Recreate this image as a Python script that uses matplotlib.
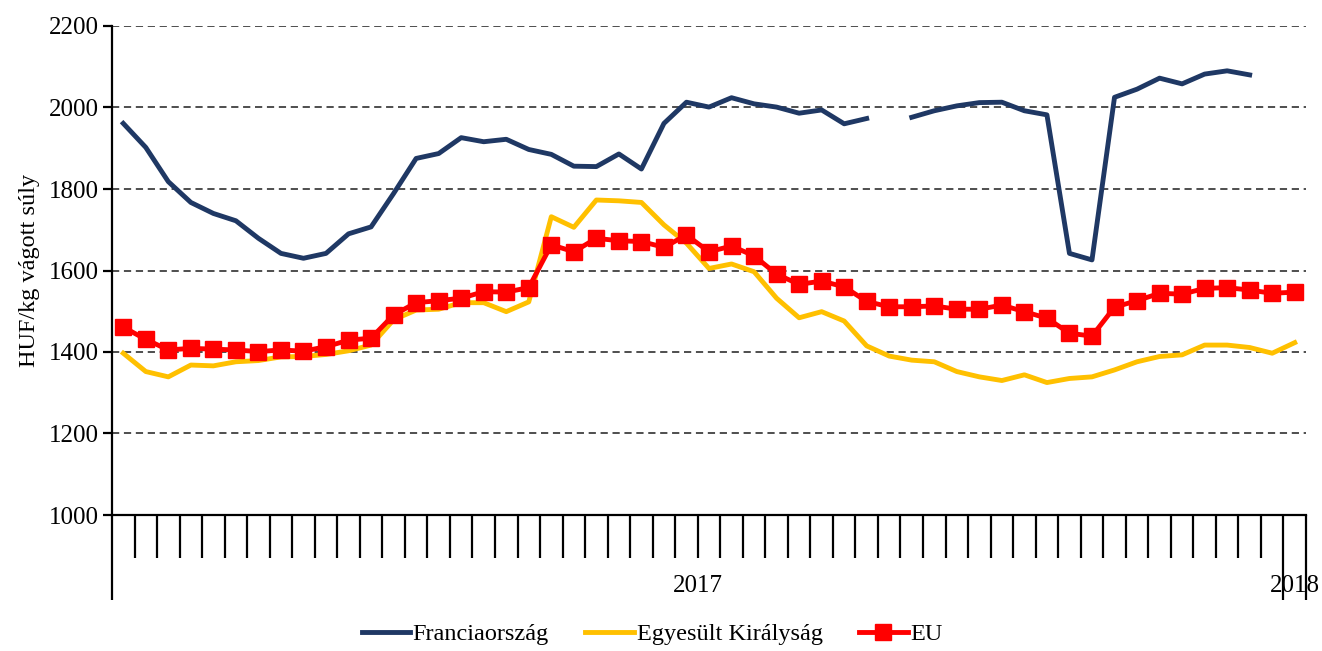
import numpy as np
import matplotlib
matplotlib.use('Agg')
import matplotlib.pyplot as plt
import matplotlib.transforms as mtransforms

plt.rcParams['font.family'] = ['Liberation Serif', 'DejaVu Serif']

# weekly prices, HUF/kg carcass weight (weeks 1-52 of 2017 + week 1 of 2018)
weeks = np.arange(53)
year_labels = ['2017', '2018']

francia = [1961, 1902, 1818, 1767, 1740, 1722, 1679, 1642, 1630, 1642,
           1690, 1707, 1789, 1875, 1887, 1926, 1916, 1922, 1897, 1885,
           1856, 1855, 1886, 1849, 1961, 2013, 2001, 2024, 2009, 2001,
           1986, 1994, 1960, 1973, np.nan, 1976, 1992, 2004, 2012, 2013,
           1992, 1982, 1642, 1626, 2025, 2045, 2072, 2058, 2082, 2090,
           2080, np.nan, np.nan]

uk = [1397, 1352, 1339, 1368, 1366, 1376, 1379, 1388, 1389, 1394,
      1403, 1417, 1479, 1503, 1505, 1521, 1521, 1499, 1523, 1732,
      1706, 1773, 1771, 1767, 1712, 1667, 1605, 1616, 1597, 1532,
      1484, 1499, 1476, 1415, 1390, 1380, 1376, 1352, 1339, 1330,
      1344, 1325, 1335, 1339, 1356, 1376, 1389, 1393, 1417, 1417,
      1411, 1397, 1423]

eu = [1461, 1431, 1405, 1409, 1407, 1405, 1401, 1405, 1402, 1413,
      1429, 1434, 1491, 1521, 1526, 1532, 1548, 1547, 1558, 1663,
      1646, 1679, 1673, 1671, 1657, 1687, 1646, 1660, 1636, 1591,
      1566, 1574, 1560, 1524, 1511, 1511, 1513, 1505, 1505, 1515,
      1499, 1483, 1446, 1439, 1510, 1526, 1544, 1542, 1556, 1558,
      1552, 1544, 1547]

fig = plt.figure(figsize=(13.22, 6.51), dpi=100)
ax = fig.add_axes([112/1322, 1-515/651, (1306-112)/1322, (515-26)/651])

ax.plot(weeks, francia, color='#1F3864', lw=3.5, label='Franciaország', zorder=3)
ax.plot(weeks, uk, color='#FFC000', lw=3.5, label='Egyesült Királyság', zorder=3)
ax.plot(weeks, eu, color='#FF0000', lw=3.5, marker='s', markersize=11,
        label='EU', zorder=4)

ax.set_xlim(-0.5, 52.5)
ax.set_ylim(1000, 2200)
ax.set_yticks(np.arange(1000, 2201, 200))
ax.yaxis.grid(True, linestyle=(0, (4, 2.6)), color='#404040', lw=1.3)
ax.set_axisbelow(True)

for s in ['top', 'right']:
    ax.spines[s].set_visible(False)
ax.spines['left'].set_linewidth(1.6)
ax.spines['bottom'].set_linewidth(1.6)

ax.tick_params(axis='y', direction='out', length=6.5, width=1.6,
               labelsize=18, pad=3)

# category axis: short ticks between weeks, long ones separating years
ax.set_xticks([-0.5, 51.5, 52.5])
ax.set_xticks([b + 0.5 for b in range(0, 51)], minor=True)
ax.set_xticklabels([])
ax.tick_params(axis='x', which='major', direction='out', length=61, width=1.6)
ax.tick_params(axis='x', which='minor', direction='out', length=31, width=1.6)

trans = mtransforms.blended_transform_factory(ax.transData, ax.transAxes)
ax.text(25.5, -0.145, year_labels[0], transform=trans, ha='center',
        va='center', fontsize=18)
ax.text(52.0, -0.145, year_labels[1], transform=trans, ha='center',
        va='center', fontsize=18)

ax.set_ylabel('HUF/kg vágott súly', fontsize=17.5, labelpad=6)

fig.legend(loc='center', bbox_to_anchor=(652/1322, 1-634/651), ncol=3,
           frameon=False, fontsize=17.5, handlelength=2.0, columnspacing=1.5,
           handletextpad=0.1)

fig.savefig('out.png', dpi=100)
